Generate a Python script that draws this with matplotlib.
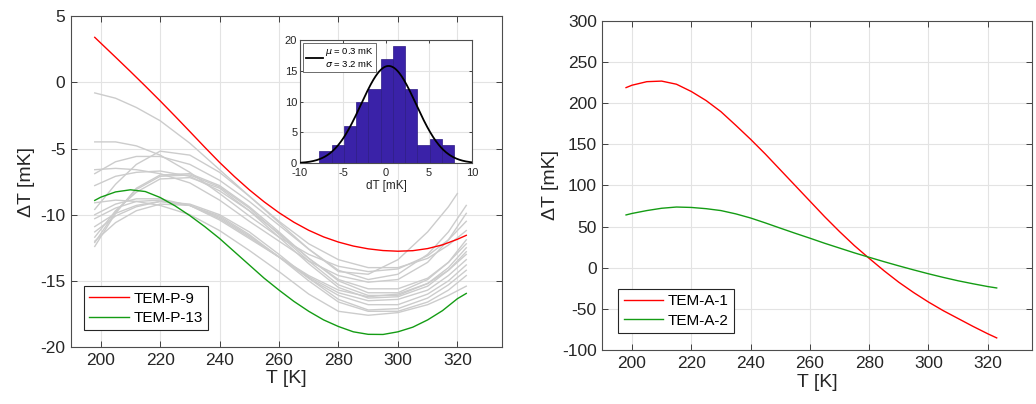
import numpy as np
import matplotlib
matplotlib.use("Agg")
import matplotlib.pyplot as plt

plt.rcParams['font.family'] = ['Liberation Sans', 'DejaVu Sans']
plt.rcParams['mathtext.fontset'] = 'dejavusans'
plt.rcParams['axes.unicode_minus'] = False

# ---------------- data: left panel ----------------
T_main = [198, 200, 205, 210, 215, 220, 225, 230, 235, 240, 245, 250, 255, 260,
          265, 270, 275, 280, 285, 290, 295, 300, 305, 310, 315, 320, 323]
tem_p9 = [3.4, 2.97, 1.9, 0.82, -0.28, -1.4, -2.55, -3.72, -4.9, -6.05, -7.12, -8.12,
          -9.03, -9.85, -10.57, -11.18, -11.68, -12.07, -12.37, -12.58, -12.71, -12.76,
          -12.72, -12.56, -12.28, -11.86, -11.56]
tem_p13 = [-8.92, -8.68, -8.28, -8.12, -8.25, -8.7, -9.33, -10.07, -10.9, -11.8, -12.8,
           -13.8, -14.8, -15.7, -16.55, -17.3, -17.95, -18.45, -18.85, -19.04, -19.05,
           -18.85, -18.5, -17.95, -17.25, -16.35, -15.95]

T_gray = [198, 205, 212, 220, 230, 240, 250, 260, 270, 280, 290, 300, 310, 317, 323]
T_gray_short = [198, 205, 212, 220, 230, 240, 250, 260, 270, 280, 290, 300, 310, 317, 320]
gray_curves = [
    [-0.8, -1.2, -1.9, -2.9, -4.6, -6.6, -8.6, -10.5, -12.2, -13.4, -14.0, -14.0, -13.3, -12.3, -11.2],
    [-4.5, -4.5, -4.8, -5.5, -6.8, -8.4, -10.1, -11.7, -13.0, -13.9, -14.3, -14.1, -13.1, -11.9, -10.5],
    [-6.9, -6.0, -5.6, -5.6, -6.2, -7.4, -9.0, -10.8, -12.6, -14.2, -14.9, -14.5, -13.0, -11.3, -9.3],
    [-6.6, -6.5, -6.6, -6.9, -7.6, -8.9, -10.5, -12.0, -13.5, -14.6, -15.1, -14.9, -13.6, -11.9, -9.9],
    [-7.8, -7.1, -6.8, -6.7, -7.1, -8.2, -9.7, -11.4, -13.3, -14.9, -15.6, -15.6, -14.8, -13.6, -12.2],
    [-12.4, -9.9, -8.0, -7.0, -6.9, -7.8, -9.4, -11.3, -13.3, -15.0, -15.9, -15.9, -14.9, -13.6, -11.9],
    [-12.1, -9.8, -8.1, -7.1, -7.0, -7.9, -9.5, -11.5, -13.5, -15.3, -16.1, -16.1, -15.2, -14.0, -12.5],
    [-11.7, -9.7, -8.3, -7.3, -7.2, -8.0, -9.7, -11.7, -13.7, -15.5, -16.3, -16.2, -15.4, -14.2, -12.8],
    [-10.0, -9.2, -8.8, -8.8, -9.3, -10.4, -11.8, -13.2, -14.6, -15.7, -16.2, -16.0, -15.2, -14.2, -13.0],
    [-10.3, -9.5, -9.0, -8.9, -9.3, -10.3, -11.7, -13.2, -14.7, -15.9, -16.5, -16.4, -15.7, -14.6, -13.4],
    [-10.9, -9.9, -9.3, -9.0, -9.3, -10.2, -11.6, -13.2, -14.8, -16.1, -16.8, -16.8, -16.0, -15.0, -13.8],
    [-11.3, -10.1, -9.4, -9.0, -9.2, -10.0, -11.3, -13.0, -14.8, -16.4, -17.2, -17.1, -16.3, -15.3, -14.2],
    [-12.0, -10.6, -9.7, -9.2, -9.3, -10.1, -11.5, -13.2, -15.0, -16.6, -17.3, -17.3, -16.6, -15.7, -14.6],
    [-9.1, -8.9, -9.0, -9.3, -10.0, -11.2, -12.7, -14.3, -16.0, -17.3, -17.6, -17.4, -16.8, -16.1, -15.4],
]
gray_steep = [-9.6, -7.7, -6.2, -5.2, -5.5, -6.8, -8.6, -10.6, -12.6, -14.3, -14.5, -13.4, -11.3, -9.4, -8.4]

# ---------------- data: inset histogram ----------------
bin_edges = [-7.75, -6.33, -4.9, -3.48, -2.05, -0.63, 0.79, 2.22, 3.64, 5.07, 6.49, 7.92]
counts = [2, 3, 6, 10, 12, 17, 19, 12, 3, 4, 3]
mu, sigma = 0.3, 3.2
fit_peak = 15.8

# ---------------- data: right panel ----------------
tem_a1 = [218.7, 221.6, 225.9, 226.6, 222.8, 214.0, 203.0, 189.5, 173.0, 156.0, 138.0,
          119.0, 100.0, 81.0, 62.0, 44.0, 27.0, 11.5, -3.5, -17.5, -30.0, -41.5,
          -52.0, -61.5, -71.0, -80.0, -85.0]
tem_a2 = [64.2, 66.0, 69.5, 72.3, 73.8, 73.3, 71.8, 69.5, 65.5, 60.5, 54.5, 48.2, 42.0,
          36.0, 29.8, 24.0, 18.2, 12.8, 7.5, 2.4, -2.5, -7.2, -11.6, -15.7, -19.3,
          -22.7, -24.4]

RED = '#ff0000'
GREEN = '#149c14'
GRAY = '#cccccc'
AXC = '#262626'
GRIDC = '#e3e3e3'


def style(ax, fs):
    ax.grid(True, color=GRIDC, lw=0.8)
    ax.set_axisbelow(True)
    for s in ax.spines.values():
        s.set_color('#4d4d4d')
        s.set_linewidth(0.8)
    ax.tick_params(direction='in', top=True, right=True, length=4, width=0.6,
                   colors=AXC, labelsize=fs, pad=4)


fig = plt.figure(figsize=(10.36, 4.04), dpi=100)

# left panel
ax1 = fig.add_axes([0.0685, 0.141, 0.416, 0.819])
for g in gray_curves:
    ax1.plot(T_gray, g, color=GRAY, lw=1.0)
ax1.plot(T_gray_short, gray_steep, color=GRAY, lw=1.0)
ax1.plot(T_main, tem_p9, color=RED, lw=1.0, label='TEM-P-9')
ax1.plot(T_main, tem_p13, color=GREEN, lw=1.0, label='TEM-P-13')
ax1.set_xlim(190, 335)
ax1.set_ylim(-20, 5)
ax1.set_xticks([200, 220, 240, 260, 280, 300, 320])
ax1.set_yticks([-20, -15, -10, -5, 0, 5])
style(ax1, 12.5)
ax1.set_xlabel('T [K]', fontsize=14, color=AXC, labelpad=2)
ax1.set_ylabel('ΔT [mK]', fontsize=14, color=AXC, labelpad=4)
leg1 = ax1.legend(loc='lower left', bbox_to_anchor=(0.03, 0.05), fontsize=11,
                  fancybox=False, framealpha=1, edgecolor=AXC, handlelength=2.6,
                  handletextpad=0.3, borderpad=0.35, labelspacing=0.35,
                  borderaxespad=0)
leg1.get_frame().set_linewidth(0.8)

# inset
axi = fig.add_axes([0.2896, 0.5958, 0.166, 0.305])
edges = np.array(bin_edges)
axi.bar(edges[:-1], counts, width=np.diff(edges), align='edge',
        color='#3a22a8', edgecolor='#2c1a84', linewidth=0.5, zorder=2)
xs = np.linspace(-10, 10, 400)
axi.plot(xs, fit_peak * np.exp(-(xs - mu) ** 2 / (2 * sigma ** 2)), color='black', lw=1.3,
         zorder=3, label='$\\mu$ = 0.3 mK\n$\\sigma$ = 3.2 mK')
axi.set_xlim(-10, 10)
axi.set_ylim(0, 20)
axi.set_xticks([-10, -5, 0, 5, 10])
axi.set_yticks([0, 5, 10, 15, 20])
style(axi, 8)
axi.tick_params(length=2.5)
axi.tick_params(axis='x', pad=3.5)
axi.tick_params(axis='y', pad=2)
axi.set_xlabel('dT [mK]', fontsize=8.5, color=AXC, labelpad=1)
legi = axi.legend(loc='upper left', fontsize=6.8, fancybox=False, framealpha=1,
                  edgecolor='#555555', handlelength=1.8, handletextpad=0.2,
                  borderpad=0.3, borderaxespad=0.3)
legi.get_frame().set_linewidth(0.6)
for t in legi.get_texts():
    t.set_multialignment('right')

# right panel
ax2 = fig.add_axes([0.5814, 0.133, 0.415, 0.816])
ax2.plot(T_main, tem_a1, color=RED, lw=1.0, label='TEM-A-1')
ax2.plot(T_main, tem_a2, color=GREEN, lw=1.0, label='TEM-A-2')
ax2.set_xlim(190, 335)
ax2.set_ylim(-100, 300)
ax2.set_xticks([200, 220, 240, 260, 280, 300, 320])
ax2.set_yticks(np.arange(-100, 301, 50))
style(ax2, 12.5)
ax2.set_xlabel('T [K]', fontsize=14, color=AXC, labelpad=2)
ax2.set_ylabel('ΔT [mK]', fontsize=14, color=AXC, labelpad=2)
leg2 = ax2.legend(loc='lower left', bbox_to_anchor=(0.037, 0.052), fontsize=11,
                  fancybox=False, framealpha=1, edgecolor=AXC, handlelength=2.6,
                  handletextpad=0.3, borderpad=0.35, labelspacing=0.35,
                  borderaxespad=0)
leg2.get_frame().set_linewidth(0.8)

fig.savefig('out.png', dpi=100)
